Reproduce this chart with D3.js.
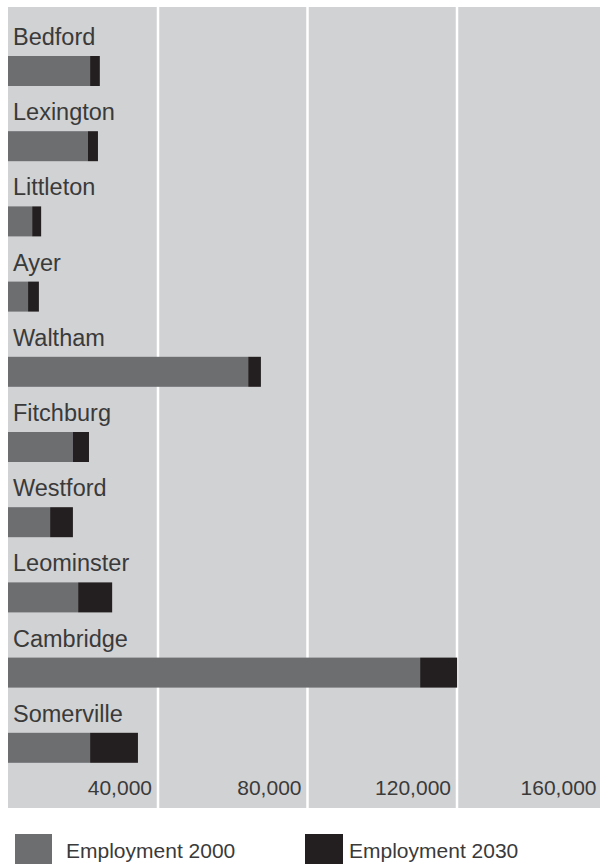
<!DOCTYPE html>
<html>
<head>
<meta charset="utf-8">
<script src="https://cdn.jsdelivr.net/npm/d3@7"></script>
<style>
  body { margin: 0; background: #fff; }
  text { font-family: "Liberation Sans", Arial, sans-serif; fill: #3a3a3a; }
</style>
</head>
<body>
<div id="chart"></div>
<script>
// Data
const cities = ["Bedford", "Lexington", "Littleton", "Ayer", "Waltham",
                "Fitchburg", "Westford", "Leominster", "Cambridge", "Somerville"];
const employment2000 = [21700, 21100, 6200, 5100, 64000, 17100, 11000, 18500, 110000, 21700];
const employment2030 = [24300, 23800, 8600, 8000, 67400, 21400, 17100, 27600, 119900, 34500];
const tickValues = [40000, 80000, 120000, 160000];
const seriesNames = ["Employment 2000", "Employment 2030"];

const width = 602, height = 865;
const panel = { left: 8, top: 7, right: 600, bottom: 808 };
const colors = { bg: "#d1d2d4", e2000: "#6d6e70", e2030: "#231f20" };

const svg = d3.select("#chart")
    .append("svg")
    .attr("width", width)
    .attr("height", height);

// Scales
const xScale = d3.scaleLinear()
    .domain([0, 160000])
    .range([9, 607]);

const yScale = d3.scaleBand()
    .domain(cities)
    .range([26, 778])
    .padding(0);

// Background panel
svg.append("rect")
    .attr("x", panel.left)
    .attr("y", panel.top)
    .attr("width", panel.right - panel.left)
    .attr("height", panel.bottom - panel.top)
    .attr("fill", colors.bg);

// Vertical gridlines (skip the last one, it falls outside the panel)
svg.selectAll(".grid")
    .data(tickValues.filter(d => xScale(d) < panel.right))
    .enter().append("line")
    .attr("class", "grid")
    .attr("x1", d => xScale(d) - 0.5)
    .attr("x2", d => xScale(d) - 0.5)
    .attr("y1", panel.top)
    .attr("y2", panel.bottom)
    .attr("stroke", "#fff")
    .attr("stroke-width", 2.5);

const rows = cities.map((c, i) => ({ city: c, v2000: employment2000[i], v2030: employment2030[i] }));
const barH = 30;

// Employment 2000 bars
svg.selectAll(".bar2000")
    .data(rows)
    .enter().append("rect")
    .attr("class", "bar2000")
    .attr("x", panel.left)
    .attr("y", d => yScale(d.city) + 30)
    .attr("width", d => xScale(d.v2000) - panel.left)
    .attr("height", barH)
    .attr("fill", colors.e2000);

// Growth to 2030, stacked on the end
svg.selectAll(".bar2030")
    .data(rows)
    .enter().append("rect")
    .attr("class", "bar2030")
    .attr("x", d => xScale(d.v2000))
    .attr("y", d => yScale(d.city) + 30)
    .attr("width", d => xScale(d.v2030) - xScale(d.v2000))
    .attr("height", barH)
    .attr("fill", colors.e2030);

// City labels
svg.selectAll(".city-label")
    .data(rows)
    .enter().append("text")
    .attr("class", "city-label")
    .attr("x", 13)
    .attr("y", d => yScale(d.city) + 19)
    .style("font-size", "23.5px")
    .text(d => d.city);

// Tick labels along the bottom of the panel
svg.selectAll(".tick-label")
    .data(tickValues)
    .enter().append("text")
    .attr("class", "tick-label")
    .attr("x", d => Math.min(xScale(d), panel.right + 3) - 6.5)
    .attr("y", 795)
    .attr("text-anchor", "end")
    .style("font-size", "21px")
    .text(d => d3.format(",")(d));

// Legend
const legendX = [15, 305];
const legendTextX = [51, 44];
const legend = svg.selectAll(".legend")
    .data(seriesNames)
    .enter().append("g")
    .attr("class", "legend")
    .attr("transform", (d, i) => `translate(${legendX[i]},834)`);

legend.append("rect")
    .attr("width", (d, i) => i === 0 ? 37 : 38)
    .attr("height", 30)
    .attr("fill", (d, i) => i === 0 ? colors.e2000 : colors.e2030);

legend.append("text")
    .attr("x", (d, i) => legendTextX[i])
    .attr("y", 23.5)
    .style("font-size", "21px")
    .text(d => d);
</script>
</body>
</html>
